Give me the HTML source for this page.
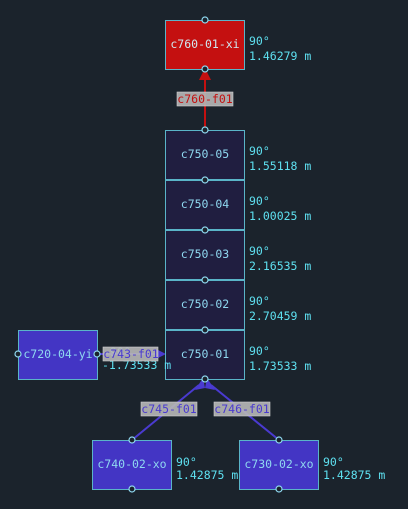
<!DOCTYPE html>
<html><head><meta charset="utf-8"><style>
html,body{margin:0;padding:0;background:#1b232c;}
svg{display:block;font-family:"DejaVu Sans Mono","Liberation Mono",monospace;font-size:11.5px;}
</style></head><body>
<svg width="408" height="509" viewBox="0 0 408 509">
<rect width="408" height="509" fill="#1b232c"/>
<line x1="205" y1="130" x2="205" y2="76" stroke="#c41010" stroke-width="2"/>
<polygon points="205,68 199,80 211,80" fill="#c41010"/>
<line x1="98" y1="354" x2="158" y2="354" stroke="#4a3ad0" stroke-width="2"/>
<polygon points="166,354 156,349 156,359" fill="#4a3ad0"/>
<line x1="132" y1="440" x2="199" y2="385" stroke="#4a3ad0" stroke-width="2"/>
<line x1="279" y1="440" x2="211" y2="385" stroke="#4a3ad0" stroke-width="2"/>
<polygon points="203,378 195,390 205,388" fill="#4a3ad0"/>
<polygon points="207,378 215,390 205,388" fill="#4a3ad0"/>
<rect x="165.5" y="20.5" width="79" height="49" fill="#c41010" stroke="#5ab4c8"/>
<text x="205" y="48" fill="#cfe8f0" text-anchor="middle">c760-01-xi</text>
<g fill="#201e40" stroke="#5ab4c8">
<rect x="165.5" y="130.5" width="79" height="49"/>
<rect x="165.5" y="180.5" width="79" height="49"/>
<rect x="165.5" y="230.5" width="79" height="49"/>
<rect x="165.5" y="280.5" width="79" height="49"/>
<rect x="165.5" y="330.5" width="79" height="49"/>
</g>
<g fill="#8fd8f0" text-anchor="middle">
<text x="205" y="158">c750-05</text>
<text x="205" y="208">c750-04</text>
<text x="205" y="258">c750-03</text>
<text x="205" y="308">c750-02</text>
<text x="205" y="358">c750-01</text>
</g>
<g fill="#4335c4" stroke="#5ab4c8">
<rect x="18.5" y="330.5" width="79" height="49"/>
<rect x="92.5" y="440.5" width="79" height="49"/>
<rect x="239.5" y="440.5" width="79" height="49"/>
</g>
<g fill="#8fd8f0" text-anchor="middle">
<text x="58" y="358">c720-04-yi</text>
<text x="132" y="468">c740-02-xo</text>
<text x="279" y="468">c730-02-xo</text>
</g>
<g fill="#1b232c" stroke="#8fd8f0" stroke-width="1.2">
<circle cx="205" cy="20" r="3"/><circle cx="205" cy="69" r="3"/>
<circle cx="205" cy="130" r="3"/><circle cx="205" cy="180" r="3"/>
<circle cx="205" cy="230" r="3"/><circle cx="205" cy="280" r="3"/>
<circle cx="205" cy="330" r="3"/><circle cx="205" cy="379" r="3"/>
<circle cx="18" cy="354" r="3"/><circle cx="97" cy="354" r="3"/>
<circle cx="132" cy="440" r="3"/><circle cx="132" cy="489" r="3"/>
<circle cx="279" cy="440" r="3"/><circle cx="279" cy="489" r="3"/>
</g>
<g fill="#5ee0f0">
<text x="249" y="45">90°</text><text x="249" y="60">1.46279 m</text>
<text x="249" y="155">90°</text><text x="249" y="170">1.55118 m</text>
<text x="249" y="205">90°</text><text x="249" y="220">1.00025 m</text>
<text x="249" y="255">90°</text><text x="249" y="270">2.16535 m</text>
<text x="249" y="305">90°</text><text x="249" y="320">2.70459 m</text>
<text x="249" y="355">90°</text><text x="249" y="370">1.73533 m</text>
<text x="103" y="356">-90°</text><text x="102" y="369">-1.73533 m</text>
<text x="176" y="466">90°</text><text x="176" y="479">1.42875 m</text>
<text x="323" y="466">90°</text><text x="323" y="479">1.42875 m</text>
</g>
<g fill="#b8b8b8" fill-opacity="0.9" stroke="#d0d0d0" stroke-width="0.6">
<rect x="177" y="92" width="56" height="14"/>
<rect x="103" y="347" width="55" height="14"/>
<rect x="141" y="402" width="56" height="14"/>
<rect x="214" y="402" width="56" height="14"/>
</g>
<text x="205" y="103" fill="#c41010" text-anchor="middle">c760-f01</text>
<g fill="#4a3ad0" text-anchor="middle">
<text x="131" y="358">c743-f01</text>
<text x="169" y="413">c745-f01</text>
<text x="242" y="413">c746-f01</text>
</g>
</svg>
</body></html>
